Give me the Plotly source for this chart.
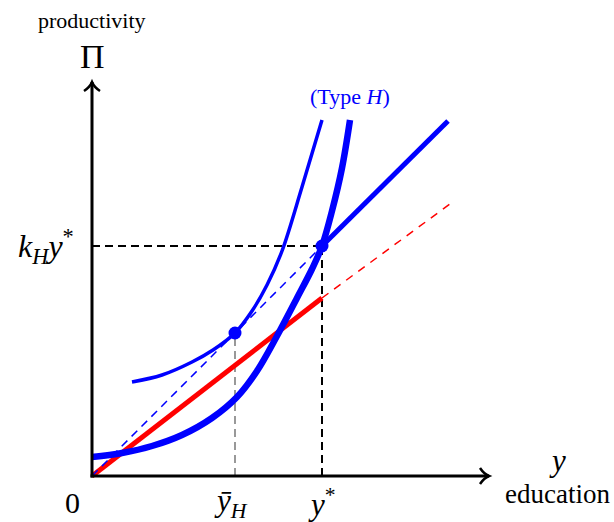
import plotly.graph_objects as go

# ---- data (abstract units: distance from origin) ----
y_star = 230
y_bar_H = 143
kH_ystar = 230

thick_x = [0, 30, 60, 90, 120, 145, 165, 185, 205, 220, 230, 240, 250, 258]
thick_y = [19, 23, 30, 41, 58, 79, 105, 140, 178, 207, 230, 265, 308, 356]

thin_x = [40, 70, 100, 121, 143, 160, 175, 190, 210, 230]
thin_y = [94, 101, 114, 126, 143, 165, 191, 225, 289, 356]

kH_line_x = [230, 356]
kH_line_y = [230, 355]
kH_dash_x = [0, 230]
kH_dash_y = [0, 230]

red_x = [0, 230]
red_y = [0, 178]
red_dash_x = [230, 358]
red_dash_y = [178, 272]

x_axis_end = 397
y_axis_end = 394

BLUE = "#0000FF"
RED = "#FF0000"
FONT = "Liberation Serif"

fig = go.Figure()

def line(x, y, color, width, dash="solid", shape="linear"):
    fig.add_trace(go.Scatter(x=x, y=y, mode="lines", hoverinfo="skip",
                             line=dict(color=color, width=width, dash=dash, shape=shape, smoothing=1)))

# guide lines
line([0, y_star], [kH_ystar, kH_ystar], "black", 2, "8px,5px")
line([y_star, y_star], [0, kH_ystar], "black", 2, "8px,5px")
line([y_bar_H, y_bar_H], [0, y_bar_H], "#555555", 1.2, "8px,5px")

# red
line(red_x, red_y, RED, 5)
line(red_dash_x, red_dash_y, RED, 1.5, "8px,7px")

# blue k_H line
line(kH_dash_x, kH_dash_y, BLUE, 1.5, "8px,6px")
line(kH_line_x, kH_line_y, BLUE, 5)

# curves
line(thin_x, thin_y, BLUE, 3.5, shape="spline")
line(thick_x, thick_y, BLUE, 6.5, shape="spline")

# dots
fig.add_trace(go.Scatter(x=[y_bar_H, y_star], y=[y_bar_H, kH_ystar], mode="markers",
                         hoverinfo="skip", marker=dict(color=BLUE, size=13)))

# axes
fig.add_shape(type="line", x0=-1.5, y0=0, x1=x_axis_end, y1=0, line=dict(color="black", width=3))
fig.add_shape(type="line", x0=0, y0=-1.5, x1=0, y1=y_axis_end, line=dict(color="black", width=3))
fig.add_shape(type="path",
              path=f"M {x_axis_end-9},8 Q {x_axis_end-5},2 {x_axis_end},0 Q {x_axis_end-5},-2 {x_axis_end-9},-8",
              line=dict(color="black", width=2.5))
fig.add_shape(type="path",
              path=f"M -8,{y_axis_end-9} Q -2,{y_axis_end-5} 0,{y_axis_end} Q 2,{y_axis_end-5} 8,{y_axis_end-9}",
              line=dict(color="black", width=2.5))

def text(x, y, s, size, color="black"):
    fig.add_annotation(x=x, y=y, text=s, showarrow=False, xanchor="center", yanchor="middle",
                       font=dict(family=FONT, size=size, color=color))

text(0, 456, "productivity", 22)
text(0, 420, "Π", 34)
text(-46, 230, "<i>k</i><sub><i>H</i></sub><i>y</i><sup>*</sup>", 32)
text(-20, -26, "0", 30)
text(y_bar_H - 4, -27, "<i>ȳ</i><sub><i>H</i></sub>", 31)
text(y_star, -26, "<i>y</i><sup>*</sup>", 31)
text(465, 16, "<i>y</i>", 31)
text(465, -18, "education", 27)
text(258, 380, "(Type <i>H</i>)", 22, BLUE)

fig.update_layout(
    width=614, height=522, autosize=False,
    margin=dict(l=0, r=0, t=0, b=0),
    paper_bgcolor="white", plot_bgcolor="white",
    showlegend=False,
    xaxis=dict(range=[-92, 522], visible=False, fixedrange=True),
    yaxis=dict(range=[-46, 476], visible=False, fixedrange=True),
)

fig.write_html("out.html", config={"displayModeBar": False},
               post_script="document.body.style.margin='0';")
